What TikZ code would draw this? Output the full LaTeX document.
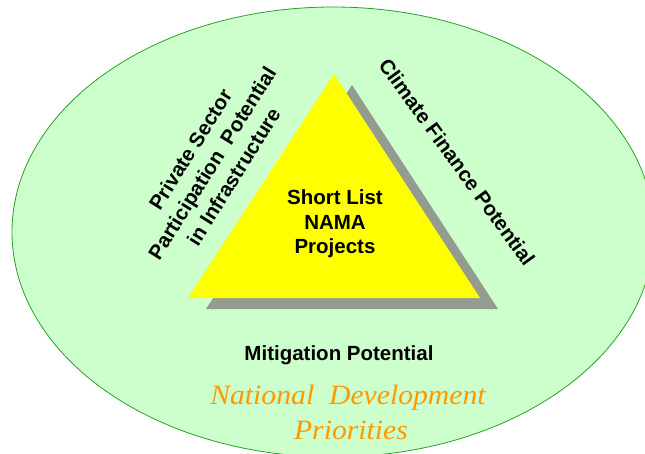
\documentclass[tikz,border=0pt]{standalone}
\usepackage{fontspec}
\setmainfont{Liberation Sans}
\newfontfamily\prioritiesfont{Liberation Serif}
\definecolor{ovalfill}{RGB}{204,255,204}
\definecolor{ovalline}{RGB}{40,160,40}
\definecolor{triyellow}{RGB}{255,255,0}
\definecolor{trishadow}{RGB}{147,156,142}
\definecolor{prioorange}{RGB}{255,153,0}
\begin{document}
\begin{tikzpicture}[x=1pt,y=-1pt,
  lbl/.style={font=\bfseries\fontsize{20.5}{24.5}\selectfont, align=center, inner sep=0pt, text=black},
  prio/.style={font=\prioritiesfont\itshape\fontsize{28}{33}\selectfont, text=prioorange, inner sep=0pt, align=center, xscale=1.06}]
\useasboundingbox (0,0) rectangle (645,453);
\begin{scope}
\clip (0,0) rectangle (645,453);
\draw[fill=ovalfill, draw=ovalline, line width=0.8pt] (333,232) ellipse [x radius=321, y radius=225];
\end{scope}
\coordinate (apex) at (334,74);
\coordinate (bl) at (188,298);
\coordinate (br) at (480,298);
\fill[trishadow] ([shift={(18,11)}]apex) -- ([shift={(18,11)}]bl) -- ([shift={(18,11)}]br) -- cycle;
\fill[triyellow] (apex) -- (bl) -- (br) -- cycle;
\node[lbl] (center) at (335,224) {Short List\\NAMA\\Projects};
\node[lbl, rotate=58, font=\bfseries\fontsize{20.5}{25.5}\selectfont] (private) at (212,163) {Private Sector\\Participation\ \ Potential\\in Infrastructure};
\node[lbl, rotate=-54] (climate) at (457,162) {Climate Finance Potential};
\node[lbl] (mitigation) at (339,355) {Mitigation Potential};
\node[prio] (national) at (348,398) {National\ \ Development};
\node[prio] (priorities) at (351,430) {Priorities};
\end{tikzpicture}
\end{document}
